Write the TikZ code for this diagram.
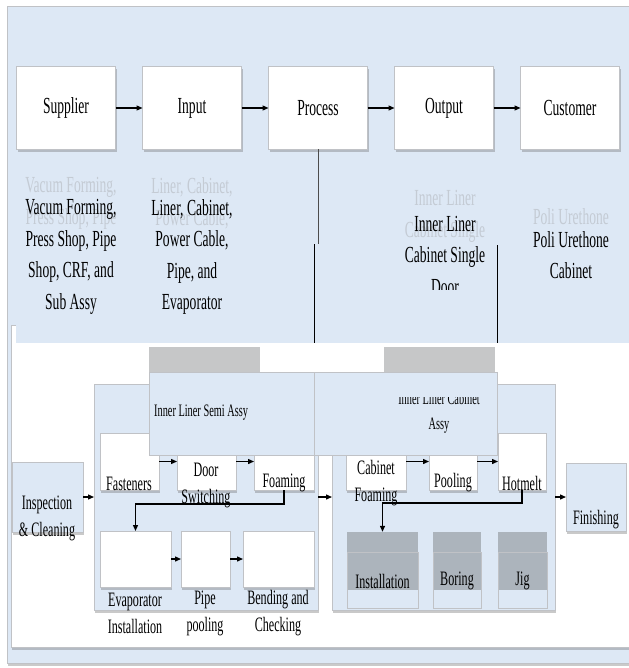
\documentclass[tikz,border=0pt]{standalone}
\usepackage{fontspec}
\setmainfont{Liberation Serif}[FakeStretch=0.59]
\usetikzlibrary{arrows.meta,shadows}
\definecolor{bgblue}{RGB}{221,232,245}
\definecolor{edgegray}{RGB}{192,194,198}
\definecolor{hdrgray}{RGB}{198,199,200}
\definecolor{stepgray}{RGB}{172,180,188}
\definecolor{ghostgray}{RGB}{196,203,212}
\begin{document}
\begin{tikzpicture}[x=1pt,y=-1pt,>={Triangle[length=6pt,width=5pt]},
	sz/.style 2 args={minimum width=#1pt,minimum height=#2pt},
	shbox/.style={draw=edgegray,line width=0.6pt,inner sep=0pt,outer sep=0pt,
		drop shadow={shadow xshift=1.2pt,shadow yshift=-2.5pt,opacity=0.35,fill=black!60}},
	topbox/.style={shbox,fill=white,sz={99}{83},font=\fontsize{23}{28}\selectfont},
	wbox/.style={shbox,fill=white},
	bbox/.style={shbox,fill=bgblue},
	toptxt/.style={align=center,inner sep=0pt,font=\fontsize{23}{31.5}\selectfont},
	ghost/.style={toptxt,text=ghostgray},
	smtxt/.style={align=center,inner sep=0pt,font=\fontsize{20.5}{27}\selectfont},
	lbltxt/.style={align=center,inner sep=0pt,font=\fontsize{17.5}{25}\selectfont},
	arr/.style={->,line width=1.3pt}]
	\useasboundingbox (0,0) rectangle (628,668);
	% background
	\node[bbox,sz={623}{657}] (frame) at (318.5,334.5) {};
	\node[wbox,sz={620}{322}] (panel) at (321,486) {};
	\node[fill=bgblue,inner sep=0pt,sz={616}{336}] (band) at (324,175) {};
	%% top row
	\foreach \X/\N/\T in {66/sup/Supplier,192/inp/Input,318/proc/Process,444/outp/Output,570/cust/Customer}
	{\node[topbox] (\N) at (\X,108) {\T};}
	\foreach \A/\B in {sup/inp,inp/proc,proc/outp,outp/cust}
	{\draw[arr] (\A) -- (\B);}
	%\foreach \X in {71,192,445,571} {\draw[help lines] (\X,160) -- ++(0,130);}
	\node[ghost] (supg) at (71,203.5) {Vacum Forming,\\Press Shop, Pipe};
	\node[ghost] (inpg) at (192,203.5) {Liner, Cabinet,\\Power Cable,};
	\node[ghost] (outg) at (445,216.5) {Inner Liner\\Cabinet Single};
	\node[ghost] (custg) at (571,217) {Poli Urethone};
	\node[toptxt] (supt) at (71,257) {Vacum Forming,\\Press Shop, Pipe\\Shop, CRF, and\\Sub Assy};
	\node[toptxt] (inpt) at (192,257) {Liner, Cabinet,\\Power Cable,\\Pipe, and\\Evaporator};
	\begin{scope}
		\clip (380,150) rectangle (510,289);
		\node[toptxt] (outt) at (445,255) {Inner Liner\\Cabinet Single\\Door};
	\end{scope}
	\node[toptxt] (custt) at (571,255) {Poli Urethone\\Cabinet};
	\coordinate (pa) at (318,244);
	\coordinate (pb) at (314,244);
	\coordinate (pc) at (314,343);
	\coordinate (qa) at (497,245);
	\coordinate (qb) at (497,343);
	\draw[line width=0.8pt,black!70] (proc.south) -- (pa);
	\draw[line width=0.8pt] (pb) -- (pc);
	\draw[line width=0.8pt] (qa) -- (qb);
	%% bottom part
	\node[fill=hdrgray,inner sep=0pt,sz={111}{26}] (hdl) at (204.5,360) {};
	\node[fill=hdrgray,inner sep=0pt,sz={111}{26}] (hdr) at (439.5,360) {};
	\node[bbox,sz={224}{226}] (lcont) at (206,497) {};
	\node[bbox,sz={223}{226}] (rcont) at (443.5,497) {};
	\node[bbox,sz={71}{70}] (insp) at (47.5,497) {};
	\node[bbox,sz={60}{68}] (fin) at (596,497) {};
	\foreach \N/\X/\W in {fast/129.5/59,door/206.5/59,foam/284/60,cab/376/60,pool/453/48,hot/522/48}
	{\node[wbox,sz={\W}{57}] (\N) at (\X,461.5) {};}
	\foreach \N/\X/\W in {evap/135.5/71,pipe/205.5/49,bend/278.5/71}
	{\node[wbox,sz={\W}{56}] (\N) at (\X,559) {};}
	\foreach \N/\X/\W/\T in {inst/382.5/71/Installation,bor/457/48/Boring,jig/522.5/49/Jig}
	{\node[fill=stepgray,inner sep=0pt,sz={\W}{58}] (\N g) at (\X,561) {};
		\node[draw=edgegray,line width=0.6pt,inner sep=0pt,sz={\W}{56}] (\N) at (\X,580) {};
		\node[smtxt] (\N t) at (\X,581) {\T};}
	% labels of the two groups
	\node[draw=edgegray,fill=bgblue,line width=0.6pt,inner sep=0pt,sz={165}{83}] (lsemi) at (231.5,413.5) {};
	\node[draw=edgegray,fill=bgblue,line width=0.6pt,inner sep=0pt,sz={183}{83}] (lcab) at (405.5,413.5) {};
	\node[lbltxt,anchor=west] (lsemit) at (154,413) {Inner Liner Semi Assy};
	\begin{scope}
		\clip (314,397) rectangle (497,455);
		\node[lbltxt] (lcabt) at (439,412.5) {Inner Liner Cabinet\\Assy};
	\end{scope}
	\node[smtxt] (fastt) at (129,484) {Fasteners};
	\node[smtxt] (doort) at (206,485) {Door\\Switching};
	\node[smtxt] (foamt) at (284,483) {Foaming};
	\node[smtxt] (cabt) at (376,483) {Cabinet\\Foaming};
	\node[smtxt] (poolt) at (453,483) {Pooling};
	\node[smtxt] (hott) at (522,483) {Hotmelt};
	\node[smtxt] (evapt) at (135,613) {Evaporator\\Installation};
	\node[smtxt] (pipet) at (205,613) {Pipe\\pooling};
	\node[smtxt] (bendt) at (278,613) {Bending and\\Checking};
	\node[smtxt] (inspt) at (47,518.5) {Inspection\\\& Cleaning};
	\node[smtxt] (fint) at (596,520) {Finishing};
	\foreach \A/\B in {fast/door,door/foam,cab/pool,pool/hot,evap/pipe,pipe/bend,insp/lcont,lcont/rcont,rcont/fin}
	{\draw[arr] (\A) -- (\B);}
	\draw[arr] (foam.south) -- ++(0,14) -| (evap.north);
	\draw[arr] (hot.south) -- ++(0,13) -| (instg.north);
\end{tikzpicture}
\end{document}
